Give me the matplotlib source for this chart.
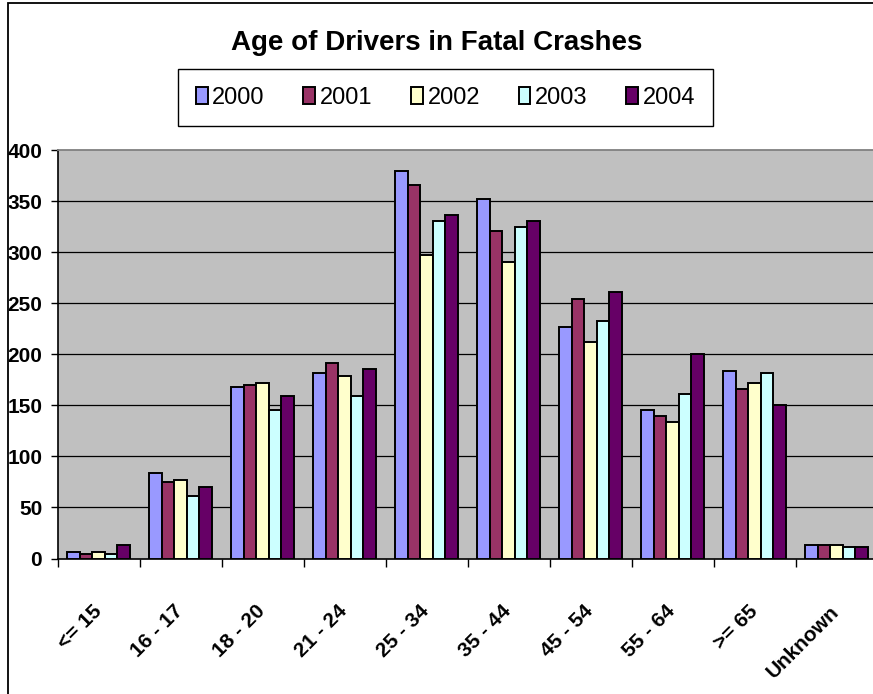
import matplotlib
matplotlib.use('Agg')
import matplotlib.pyplot as plt
import numpy as np
from matplotlib.patches import Rectangle

# data
age_groups = ['<= 15', '16 - 17', '18 - 20', '21 - 24', '25 - 34',
              '35 - 44', '45 - 54', '55 - 64', '>= 65', 'Unknown']
years = ['2000', '2001', '2002', '2003', '2004']
v2000 = [6, 84, 168, 182, 379, 352, 227, 145, 184, 13]
v2001 = [4, 75, 170, 191, 366, 321, 254, 140, 166, 13]
v2002 = [6, 77, 172, 179, 297, 290, 212, 134, 172, 13]
v2003 = [4, 61, 145, 159, 330, 325, 233, 161, 182, 11]
v2004 = [13, 70, 159, 186, 336, 330, 261, 200, 150, 11]
series = [v2000, v2001, v2002, v2003, v2004]
colors = ['#9999FF', '#993366', '#FFFFCC', '#CCFFFF', '#660066']

plt.rcParams['font.family'] = ['Liberation Sans', 'DejaVu Sans']

W, H = 873, 694
fig = plt.figure(figsize=(W / 100, H / 100), dpi=100)
fig.patch.set_facecolor('white')

# outer chart frame (cropped at right and bottom)
fig.patches.append(Rectangle((8 / W, -0.1), 1.2, 1 - 3 / H + 0.1, transform=fig.transFigure,
                             fill=False, edgecolor='black', linewidth=1.3))

# plot area
left, right, top, bottom = 57.5, 877.5, 150, 558.5
ax = fig.add_axes([left / W, 1 - bottom / H, (right - left) / W, (bottom - top) / H])
ax.set_facecolor('#C0C0C0')

x = np.arange(len(age_groups))
bw = 0.152
for i, (vals, c, yr) in enumerate(zip(series, colors, years)):
    ax.bar(x + (i - 2) * bw, vals, bw, color=c, edgecolor='black', linewidth=1.4,
           label=yr, zorder=3)

ax.set_xlim(-0.5, len(age_groups) - 0.5)
ax.set_ylim(0, 400)
ax.set_yticks(range(0, 401, 50))
for yv in range(50, 400, 50):
    ax.axhline(yv, color='black', linewidth=0.9, zorder=1)

ax.spines['top'].set_color('#808080')
ax.spines['top'].set_linewidth(1.3)
ax.spines['right'].set_visible(False)
ax.spines['left'].set_linewidth(1.2)
ax.spines['bottom'].set_linewidth(1.2)

# x ticks at category boundaries, labels at centers
ax.set_xticks(np.arange(len(age_groups) + 1) - 0.5)
ax.set_xticklabels([])
ax.set_xticks(x, minor=True)
ax.set_xticklabels(age_groups, minor=True, rotation=45, ha='right', va='center',
                   rotation_mode='anchor', fontsize=15, fontweight='bold')
ax.tick_params(axis='x', which='minor', length=0, pad=36)
ax.tick_params(axis='x', which='major', length=6, width=1, direction='out')
ax.tick_params(axis='y', length=5, width=1, direction='out', pad=6)
for lab in ax.get_yticklabels():
    lab.set_fontsize(15)
    lab.set_fontweight('bold')

fig.text(0.5, 1 - 43 / H, 'Age of Drivers in Fatal Crashes', ha='center', va='center',
         fontsize=20, fontweight='bold')

leg = ax.legend(loc='center', ncol=5, bbox_to_anchor=(178 / W, 1 - 124 / H, 535 / W, 53 / H),
                bbox_transform=fig.transFigure, mode='expand', fontsize=17,
                frameon=True, fancybox=False, edgecolor='black', framealpha=1,
                handlelength=0.5, handleheight=0.75, handletextpad=0.2,
                borderpad=0.75, borderaxespad=0)
leg.get_frame().set_linewidth(1.0)

plt.savefig('out.png', dpi=100)
